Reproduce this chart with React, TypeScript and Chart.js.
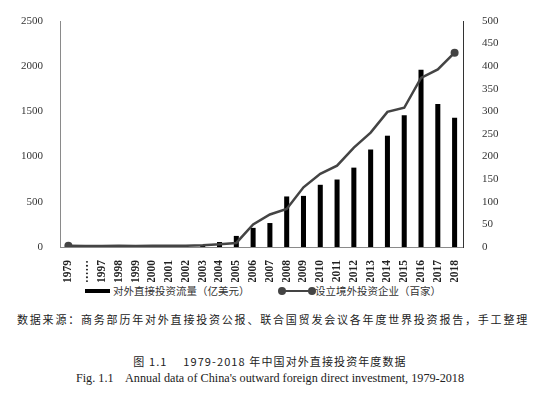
import React, { useEffect, useRef } from "react";
import { Chart, registerables } from "chart.js";

Chart.register(...registerables);

const years = ["1979", "……", "1997", "1998", "1999", "2000", "2001", "2002", "2003", "2004", "2005", "2006", "2007", "2008", "2009", "2010", "2011", "2012", "2013", "2014", "2015", "2016", "2017", "2018"];
const ofdiFlow = [0, 0, 3, 3, 2, 1, 7, 10, 12, 55, 122.6, 211.6, 265.1, 559.1, 565.3, 688.1, 746.5, 878, 1078.4, 1231.2, 1456.7, 1961.5, 1582.9, 1430.4];
const overseasFirms = [3, 2, 2, 3, 2, 3, 3, 3, 4, 6, 9, 50, 72, 84, 132, 162, 180, 220, 253, 299, 308, 374, 393, 430];
const leftTicks = [0, 500, 1000, 1500, 2000, 2500];
const rightTicks = [0, 50, 100, 150, 200, 250, 300, 350, 400, 450, 500];
const barLabel = "对外直接投资流量（亿美元）";
const lineLabel = "设立境外投资企业（百家）";
const sourceText = "数据来源：商务部历年对外直接投资公报、联合国贸发会议各年度世界投资报告，手工整理";
const captionCn = "图 1.1\u3000 1979-2018 年中国对外直接投资年度数据";
const captionEn = "Fig. 1.1\u00a0\u00a0\u00a0 Annual data of China's outward foreign direct investment, 1979-2018";

const serif = "'Liberation Serif', serif";
const tickFont = { family: serif, size: 11 };

export default function App() {
  const ref = useRef<HTMLCanvasElement | null>(null);
  useEffect(() => {
    if (!ref.current) return;
    const n = overseasFirms.length;
    const chart = new Chart(ref.current, {
      data: {
        labels: years,
        datasets: [
          {
            type: "line",
            label: lineLabel,
            data: overseasFirms,
            yAxisID: "y1",
            borderColor: "#444444",
            backgroundColor: "#444444",
            borderWidth: 2.5,
            tension: 0,
            pointRadius: overseasFirms.map((_, i) => (i === 0 || i === n - 1 ? 4 : 0)),
            pointBackgroundColor: "#444444",
            pointBorderWidth: 0,
            order: 0,
          },
          {
            type: "bar",
            label: barLabel,
            data: ofdiFlow,
            yAxisID: "y",
            backgroundColor: "#000000",
            barPercentage: 0.3,
            categoryPercentage: 1,
            order: 1,
          },
        ],
      },
      options: {
        animation: false,
        responsive: false,
        maintainAspectRatio: false,
        layout: { padding: { top: 21, left: 0, right: 0, bottom: 0 } },
        plugins: { legend: { display: false }, tooltip: { enabled: false } },
        scales: {
          x: {
            grid: { display: false },
            border: { display: true, color: "#8a8a8a", width: 1 },
            ticks: {
              minRotation: 90,
              maxRotation: 90,
              autoSkip: false,
              color: "#222",
              padding: 5,
              font: { family: serif, size: 11.5, weight: "bold" },
            },
            afterFit: (s: any) => {
              s.height = 35;
            },
          },
          y: {
            position: "left",
            min: 0,
            max: 2500,
            grid: { display: false },
            border: { display: true, color: "#8a8a8a", width: 1 },
            afterBuildTicks: (s: any) => {
              s.ticks = leftTicks.map((v) => ({ value: v }));
            },
            ticks: { color: "#333", padding: 9, font: tickFont, callback: (v: any) => String(v) },
            afterFit: (s: any) => {
              s.width = 60;
            },
          },
          y1: {
            position: "right",
            min: 0,
            max: 500,
            grid: { display: false },
            border: { display: true, color: "#333", width: 1 },
            afterBuildTicks: (s: any) => {
              s.ticks = rightTicks.map((v) => ({ value: v }));
            },
            ticks: { color: "#333", padding: 11, font: tickFont, callback: (v: any) => String(v) },
            afterFit: (s: any) => {
              s.width = 77;
            },
          },
        },
      },
    } as any);
    return () => chart.destroy();
  }, []);

  const cjk = "'Noto Sans CJK SC', 'Noto Sans', sans-serif";
  return (
    <div style={{ position: "absolute", left: 0, top: 0, width: 540, height: 393, background: "#fff", overflow: "hidden" }}>
      <canvas ref={ref} width={540} height={282} style={{ position: "absolute", left: 0, top: 0, width: 540, height: 282 }} />
      <div style={{ position: "absolute", left: 85, top: 289, width: 25, height: 4, background: "#000" }} />
      <div style={{ position: "absolute", left: 113, top: 283, fontFamily: cjk, fontSize: 10.5, color: "#333", lineHeight: "16px", whiteSpace: "nowrap" }}>{barLabel}</div>
      <div style={{ position: "absolute", left: 282, top: 290, width: 30, height: 2, background: "#444" }} />
      <div style={{ position: "absolute", left: 278, top: 287, width: 8, height: 8, borderRadius: 4, background: "#444" }} />
      <div style={{ position: "absolute", left: 308, top: 287, width: 8, height: 8, borderRadius: 4, background: "#444" }} />
      <div style={{ position: "absolute", left: 315, top: 283, fontFamily: cjk, fontSize: 10.5, color: "#333", lineHeight: "16px", whiteSpace: "nowrap" }}>{lineLabel}</div>
      <div style={{ position: "absolute", left: 17, top: 311, fontFamily: cjk, fontSize: 11, letterSpacing: "1.8px", color: "#222", lineHeight: "16px", whiteSpace: "nowrap" }}>{sourceText}</div>
      <div style={{ position: "absolute", left: 0, width: 540, top: 353, textAlign: "center", fontFamily: cjk, fontSize: 11, letterSpacing: "1.1px", color: "#222", lineHeight: "16px", whiteSpace: "nowrap" }}>{captionCn}</div>
      <div style={{ position: "absolute", left: 0, width: 540, top: 370, textAlign: "center", fontFamily: "'Liberation Serif', serif", fontSize: 12.2, color: "#222", lineHeight: "16px", whiteSpace: "nowrap" }}>{captionEn}</div>
    </div>
  );
}
